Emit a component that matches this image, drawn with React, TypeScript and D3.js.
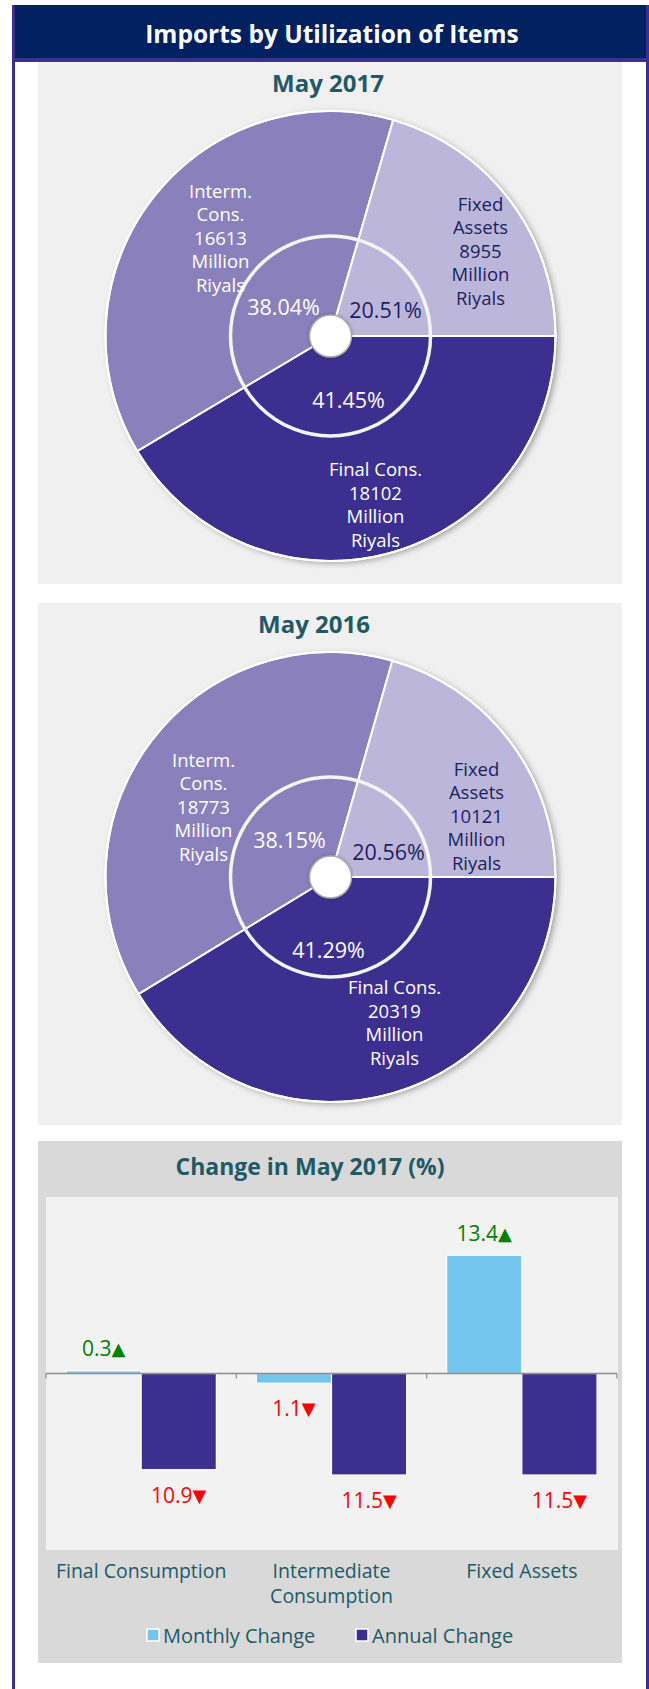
import React from 'react';
import * as d3 from 'd3';

// pie data (order: Final, Interm., Fixed)
const pieNames = [['Final Cons.'], ['Interm.', 'Cons.'], ['Fixed', 'Assets']];
const values2017 = [18102, 16613, 8955];
const shares2017 = ['41.45%', '38.04%', '20.51%'];
const values2016 = [20319, 18773, 10121];
const shares2016 = ['41.29%', '38.15%', '20.56%'];

// bar data
const barCategories = [['Final Consumption'], ['Intermediate', 'Consumption'], ['Fixed Assets']];
const seriesNames = ['Monthly Change', 'Annual Change'];
const monthlyChange = [0.3, -1.1, 13.4];
const annualChange = [-10.9, -11.5, -11.5];

const W = 649;
const H = 1689;
const FONT = "'Open Sans', 'Noto Sans', sans-serif";
const pieColors = ['#3c2f8f', '#8a80bb', '#bcb6db'];
const pieText = ['#ffffff', '#ffffff', '#1b1f5e'];
const barColors = ['#74c5ee', '#3c2f8f'];
const teal = '#215967';

// label offsets from pie centre (layout only)
const layout2017 = {
  cx: 330.5, cy: 336, titleX: 328, titleY: 82,
  labels: [[45, 168], [-110, -99], [150, -86]],
  pcts: [[18, 63], [-47, -30], [55, -27]],
};
const layout2016 = {
  cx: 330.5, cy: 877, titleX: 314, titleY: 623,
  labels: [[64, 145], [-127, -71], [146, -62]],
  pcts: [[-2, 72], [-41, -38], [58, -26]],
};

function PieChart({ values, shares, title, lay }) {
  const R = 225;
  const pie = d3.pie<number>().sort(null).value(d => d)
    .startAngle(Math.PI / 2).endAngle(Math.PI / 2 + 2 * Math.PI);
  const arcs = pie(values);
  const arc = d3.arc<d3.PieArcDatum<number>>().innerRadius(0).outerRadius(R);
  const lh = 23.5;
  return (
    <g>
      <text x={lay.titleX} y={lay.titleY} textAnchor="middle" dominantBaseline="central"
        fontFamily={FONT} fontWeight="bold" fontSize={24} fill={teal}>{title}</text>
      <g transform={`translate(${lay.cx},${lay.cy})`}>
        <circle r={R} fill="#ffffff" filter="url(#shadow)" />
        {arcs.map((a, i) => (
          <path key={i} d={arc(a) || ''} fill={pieColors[i]} stroke="#ffffff" strokeWidth={2} />
        ))}
        <circle r={R} fill="none" stroke="#ffffff" strokeWidth={2} />
        <circle r={100} fill="none" stroke="#f4f4f4" strokeWidth={3.5} />
        <circle r={21} fill="#ffffff" stroke="#a9a9a9" strokeWidth={1.5} filter="url(#shadowSmall)" />
        {arcs.map((a, i) => {
          const lines = [...pieNames[i], String(values[i]), 'Million', 'Riyals'];
          const [dx, dy] = lay.labels[i];
          const y0 = dy - ((lines.length - 1) * lh) / 2;
          return (
            <text key={'l' + i} textAnchor="middle" fontFamily={FONT} fontSize={18.5} fill={pieText[i]}>
              {lines.map((t, j) => (
                <tspan key={j} x={dx} y={y0 + j * lh} dominantBaseline="central">{t}</tspan>
              ))}
            </text>
          );
        })}
        {arcs.map((a, i) => (
          <text key={'p' + i} x={lay.pcts[i][0]} y={lay.pcts[i][1]} textAnchor="middle"
            dominantBaseline="central" fontFamily={FONT} fontSize={21.5} fill={pieText[i]}>{shares[i]}</text>
        ))}
      </g>
    </g>
  );
}

function BarChart() {
  const left = 46, right = 617, top = 1197, bottom = 1550;
  const idx = barCategories.map((_, i) => i);
  const x0 = d3.scaleBand<number>().domain(idx).range([left, right])
    .paddingInner(0.21).paddingOuter(0.105);
  const x1 = d3.scaleBand<number>().domain([0, 1]).range([0, x0.bandwidth()]);
  const y = d3.scaleLinear().domain([-20, 20]).range([bottom, top]);
  const step = x0.step();
  const series = [monthlyChange, annualChange];
  const zero = y(0);
  return (
    <g>
      <rect x={38} y={1141} width={584} height={522} fill="#d9d9d9" />
      <text x={310} y={1166} textAnchor="middle" dominantBaseline="central" fontFamily={FONT}
        fontWeight="bold" fontSize={23} fill={teal}>Change in May 2017 (%)</text>
      <rect x={left} y={top} width={618 - left} height={bottom - top} fill="#f2f2f2" />
      {series.map((s, si) => s.map((v, i) => (
        <rect key={si + '-' + i} x={(x0(i) || 0) + (x1(si) || 0)} width={x1.bandwidth()}
          y={Math.min(y(v), zero)} height={Math.abs(y(v) - zero)}
          fill={barColors[si]} stroke="#ffffff" strokeWidth={1.2} />
      )))}
      <line x1={left} x2={right} y1={zero} y2={zero} stroke="#8c8c8c" strokeWidth={1.5} />
      {[0, 1, 2, 3].map(i => (
        <line key={i} x1={left + i * step} x2={left + i * step} y1={zero} y2={zero + 5}
          stroke="#8c8c8c" strokeWidth={1.2} />
      ))}
      {series.map((s, si) => s.map((v, i) => {
        const cx = (x0(i) || 0) + (x1(si) || 0) + x1.bandwidth() / 2;
        const cy = v >= 0 ? y(v) - 22.5 : y(v) + 25;
        const col = v >= 0 ? '#008000' : '#ff0000';
        return (
          <text key={'v' + si + i} x={cx} y={cy} textAnchor="middle" dominantBaseline="central"
            fontFamily={FONT} fontSize={21} fill={col}>
            {Math.abs(v).toFixed(1)}
            <tspan fontFamily="'DejaVu Sans'" fontSize={18}>{v >= 0 ? '▲' : '▼'}</tspan>
          </text>
        );
      }))}
      {barCategories.map((lines, i) => (
        <text key={'c' + i} textAnchor="middle" fontFamily={FONT} fontSize={19.5} fill={teal}>
          {lines.map((t, j) => (
            <tspan key={j} x={(x0(i) || 0) + x0.bandwidth() / 2} y={1570 + j * 25}
              dominantBaseline="central">{t}</tspan>
          ))}
        </text>
      ))}
      {seriesNames.map((n, i) => {
        const lx = [147, 356][i];
        return (
          <g key={'lg' + i}>
            <rect x={lx} y={1629} width={12} height={12} fill={barColors[i]} stroke="#ffffff" strokeWidth={1.5} />
            <text x={lx + 16} y={1635} dominantBaseline="central" fontFamily={FONT} fontSize={20}
              fill={teal}>{n}</text>
          </g>
        );
      })}
    </g>
  );
}

export default function App() {
  return (
    <svg width={W} height={H} style={{ position: 'absolute', left: 0, top: 0, display: 'block' }}>
      <defs>
        <filter id="shadow" x="-10%" y="-10%" width="125%" height="125%">
          <feDropShadow dx={3} dy={2} stdDeviation={3} floodColor="#000" floodOpacity={0.35} />
        </filter>
        <filter id="shadowSmall" x="-50%" y="-50%" width="200%" height="200%">
          <feDropShadow dx={0} dy={0} stdDeviation={1.5} floodColor="#000" floodOpacity={0.3} />
        </filter>
      </defs>
      <rect width={W} height={H} fill="#ffffff" />
      <rect x={12} y={5} width={3} height={H - 5} fill="#3d2f92" />
      <rect x={646} y={5} width={3} height={H - 5} fill="#3d2f92" />
      <rect x={15} y={5} width={631} height={53} fill="#002060" />
      <rect x={12} y={58} width={637} height={4} fill="#3d2f92" />
      <text x={332} y={33} textAnchor="middle" dominantBaseline="central" fontFamily={FONT}
        fontWeight="bold" fontSize={24.5} fill="#ffffff">Imports by Utilization of Items</text>
      <rect x={38} y={62} width={584} height={522} fill="#f0f0f0" />
      <rect x={38} y={603} width={584} height={522} fill="#f0f0f0" />
      <PieChart values={values2017} shares={shares2017} title="May 2017" lay={layout2017} />
      <PieChart values={values2016} shares={shares2016} title="May 2016" lay={layout2016} />
      <BarChart />
    </svg>
  );
}
